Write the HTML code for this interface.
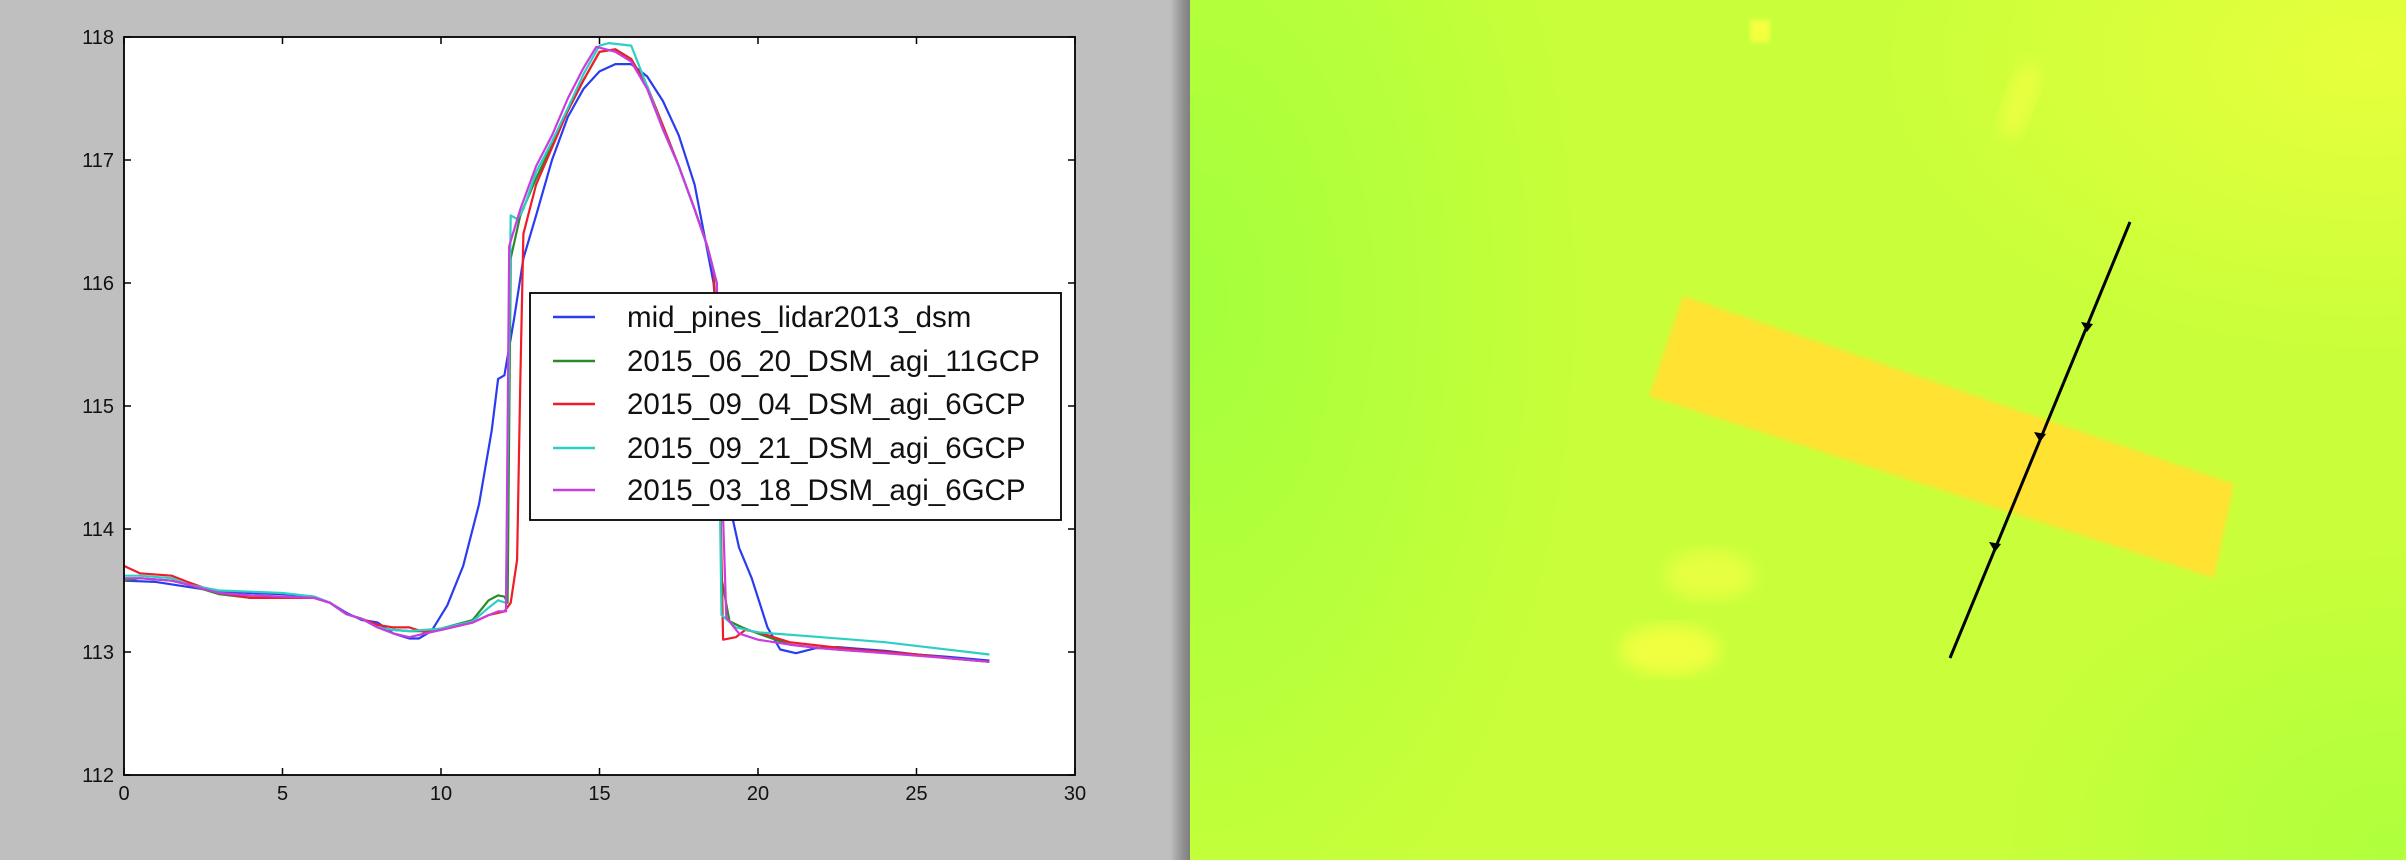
<!DOCTYPE html>
<html><head><meta charset="utf-8"><style>
html,body{margin:0;padding:0;}
body{width:2406px;height:860px;position:relative;overflow:hidden;background:#bfbfbf;font-family:"Liberation Sans",sans-serif;}
#left{position:absolute;left:0;top:0;width:1178px;height:860px;background:#bfbfbf;}
#shadow{position:absolute;left:1170px;top:0;width:22px;height:860px;background:linear-gradient(90deg,#bfbfbf,#8f8f8f 60%,#7a7a7a);}
#right{position:absolute;left:1190px;top:0;width:1216px;height:860px;
background:
radial-gradient(ellipse 500px 300px at 1180px 60px, rgba(235,255,60,0.9), rgba(235,255,60,0) 100%),
radial-gradient(ellipse 400px 700px at 0px 300px, rgba(160,255,60,0.9), rgba(160,255,60,0) 100%),
radial-gradient(ellipse 400px 300px at 1200px 840px, rgba(170,255,60,0.8), rgba(170,255,60,0) 100%),
#c8ff3a;}
svg{position:absolute;left:0;top:0;}
</style></head><body>
<div id="left"></div>
<div id="shadow"></div>
<div id="right"></div>
<svg id="map" width="2406" height="860">
  <defs><filter id="bl"><feGaussianBlur stdDeviation="8"/></filter><filter id="bl2"><feGaussianBlur stdDeviation="2"/></filter></defs>
  <rect x="1750" y="20" width="20" height="22" fill="#f4ff40" filter="url(#bl2)"/>
  <ellipse cx="2020" cy="100" rx="14" ry="40" fill="#eaff40" filter="url(#bl)" transform="rotate(20 2020 100)"/>
  <ellipse cx="1710" cy="575" rx="45" ry="25" fill="#e6ff40" filter="url(#bl)"/>
  <ellipse cx="1670" cy="650" rx="50" ry="25" fill="#f0ff40" filter="url(#bl)"/>
  <polygon points="1683,296 2234,484 2214,578 1649,396" fill="#ffe233" filter="url(#bl2)"/>
  <line x1="2130" y1="222" x2="1950" y2="658" stroke="#000" stroke-width="3"/>
  <polygon points="2087,332 2081,322 2093,324" fill="#000"/>
  <polygon points="2040,442 2034,432 2046,434" fill="#000"/>
  <polygon points="1995,552 1989,542 2001,544" fill="#000"/>
</svg>
<svg id="chart" width="1180" height="860"></svg>
<script>
const xTicks=[0,5,10,15,20,25,30];
const yTicks=[112,113,114,115,116,117,118];
const seriesNames=["mid_pines_lidar2013_dsm","2015_06_20_DSM_agi_11GCP","2015_09_04_DSM_agi_6GCP","2015_09_21_DSM_agi_6GCP","2015_03_18_DSM_agi_6GCP"];
const seriesColors=["#2a3cf0","#2a8a2a","#f01c28","#2ccfc4","#c83ce0"];
const lidarX=[0,1,2,3,4,5,6,6.5,7,7.5,8,8.5,9,9.3,9.7,10.2,10.7,11.2,11.6,11.8,12.0,12.3,12.6,13,13.5,14,14.5,15,15.5,16,16.5,17,17.5,18,18.3,18.6,18.9,19.1,19.4,19.8,20.3,20.7,21.2,21.8,22.5,24,25,26,27.3];
const lidarY=[113.58,113.57,113.53,113.49,113.48,113.47,113.45,113.40,113.32,113.26,113.24,113.15,113.11,113.11,113.17,113.38,113.7,114.2,114.8,115.22,115.25,115.7,116.2,116.55,117.0,117.35,117.58,117.72,117.78,117.78,117.68,117.48,117.2,116.8,116.4,116.0,115.0,114.2,113.85,113.6,113.2,113.02,112.99,113.03,113.04,113.01,112.98,112.96,112.93];
const g0620X=[0,0.5,1.5,2,3,4,5,6,6.5,7,7.5,8,8.5,9,9.5,10,11,11.5,11.8,12.0,12.1,12.2,12.5,13,13.5,14,14.5,15,15.5,16,16.5,17,17.5,18,18.4,18.7,18.85,19.1,19.5,20,21,22,23,24,25,26,27.3];
const g0620Y=[113.58,113.6,113.58,113.55,113.47,113.44,113.44,113.44,113.40,113.31,113.27,113.2,113.18,113.17,113.17,113.19,113.26,113.42,113.46,113.45,113.4,116.2,116.55,116.85,117.12,117.4,117.65,117.88,117.9,117.82,117.6,117.28,116.95,116.6,116.3,116.0,113.6,113.25,113.2,113.15,113.06,113.03,113.01,113.0,112.98,112.95,112.92];
const r0904X=[0,0.5,1.5,2,3,4,5,6,6.5,7,7.5,8,8.5,9,9.5,10,11,11.5,12,12.2,12.4,12.5,12.6,13,13.5,14,14.5,15,15.5,16,16.5,17,17.5,18,18.4,18.6,18.75,18.9,19.3,19.6,20,21,22,23,24,25,26,27.3];
const r0904Y=[113.70,113.64,113.62,113.57,113.48,113.44,113.44,113.44,113.40,113.31,113.27,113.22,113.20,113.2,113.16,113.18,113.24,113.3,113.33,113.4,113.75,115.2,116.4,116.8,117.1,117.4,117.65,117.88,117.9,117.82,117.6,117.28,116.95,116.6,116.3,116.1,115.0,113.1,113.12,113.18,113.16,113.08,113.05,113.02,113.0,112.98,112.95,112.92];
const c0921X=[0,0.5,1.5,2,3,4,5,6,6.5,7,7.5,8,8.5,9,9.5,10,11,11.5,11.8,12.05,12.2,12.4,12.6,13,13.5,14,14.5,15,15.3,16,16.5,17,17.5,18,18.4,18.7,18.85,19.3,20,22,24,27.3];
const c0921Y=[113.62,113.62,113.6,113.55,113.5,113.49,113.48,113.45,113.40,113.31,113.27,113.2,113.18,113.17,113.18,113.19,113.25,113.36,113.42,113.4,116.55,116.52,116.6,116.9,117.15,117.42,117.7,117.93,117.95,117.93,117.6,117.25,116.95,116.6,116.3,116.0,113.3,113.2,113.16,113.12,113.08,112.98];
const m0318X=[0,0.5,1.5,2,3,4,5,6,6.5,7,7.5,8,8.5,9,9.5,10,11,11.5,11.8,12.05,12.15,12.5,13,13.5,14,14.5,14.9,15.5,16,16.5,17,17.5,18,18.4,18.7,18.85,19.0,19.4,20,21,22,23,24,25,26,27.3];
const m0318Y=[113.6,113.6,113.58,113.55,113.48,113.46,113.45,113.44,113.40,113.31,113.27,113.2,113.15,113.12,113.15,113.18,113.24,113.3,113.33,113.33,116.3,116.6,116.95,117.2,117.5,117.75,117.92,117.88,117.8,117.58,117.25,116.95,116.6,116.3,116.0,114.5,113.28,113.15,113.1,113.06,113.03,113.01,112.99,112.97,112.95,112.92];
const seriesX=[lidarX,g0620X,r0904X,c0921X,m0318X];
const seriesY=[lidarY,g0620Y,r0904Y,c0921Y,m0318Y];

const NS="http://www.w3.org/2000/svg";
const svg=document.getElementById('chart');
const L=124,R=1075,T=37,B=775;
const xMin=0,xMax=30,yMin=112,yMax=118;
function sx(v){return L+(v-xMin)/(xMax-xMin)*(R-L);}
function sy(v){return B-(v-yMin)/(yMax-yMin)*(B-T);}
function mk(tag,attrs){const e=document.createElementNS(NS,tag);for(const k in attrs)e.setAttribute(k,attrs[k]);svg.appendChild(e);return e;}

const bg=mk('rect',{x:L,y:T,width:R-L,height:B-T,fill:'#fff'});



xTicks.forEach(t=>{
  const x=sx(t);
  const a=mk('line',{x1:x,y1:B,x2:x,y2:B-7,stroke:'#000','stroke-width':1.5});
  
  
  const b=mk('line',{x1:x,y1:T,x2:x,y2:T+7,stroke:'#000','stroke-width':1.5});
  
  
  const tx=mk('text',{x:x,y:B+25,'text-anchor':'middle','font-size':20,fill:'#111'});
  tx.textContent=t;
  
  
});
yTicks.forEach(t=>{
  const y=sy(t);
  const a=mk('line',{x1:L,y1:y,x2:L+7,y2:y,stroke:'#000','stroke-width':1.5});
  
  
  const b=mk('line',{x1:R,y1:y,x2:R-7,y2:y,stroke:'#000','stroke-width':1.5});
  
  
  const tx=mk('text',{x:L-10,y:y+7,'text-anchor':'end','font-size':20,fill:'#111'});
  tx.textContent=t;
  
  
});

seriesX.forEach((xs,i)=>{
  const pts=xs.map((x,j)=>sx(x).toFixed(1)+','+sy(seriesY[i][j]).toFixed(1)).join(' ');
  const p=mk('polyline',{points:pts,fill:'none',stroke:seriesColors[i],'stroke-width':2.2,'stroke-linejoin':'round'});
  
  
});

const frame=mk('rect',{x:L,y:T,width:R-L,height:B-T,fill:'none',stroke:'#000','stroke-width':1.8});



const lg=mk('rect',{x:530,y:293,width:531,height:227,fill:'#fff',stroke:'#000','stroke-width':1.8});


const rows=[317,361,404,448,490];
seriesNames.forEach((n,i)=>{
  const y=rows[i];
  const l=mk('line',{x1:553,y1:y,x2:595,y2:y,stroke:seriesColors[i],'stroke-width':2.5});
  
  
  const t=mk('text',{x:627,y:y+10,'font-size':29.5,fill:'#111'});
  t.textContent=n;
  
  
});
</script>
</body></html>
